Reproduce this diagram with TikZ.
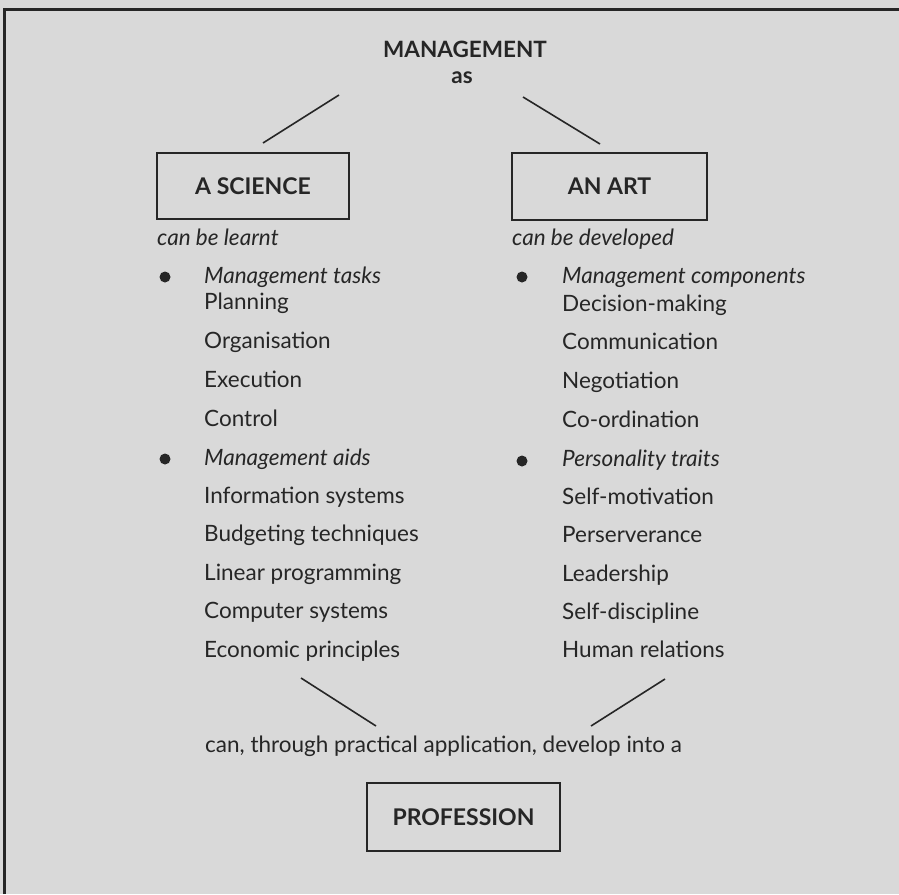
\documentclass[tikz,border=0pt]{standalone}
\usepackage{fontspec}
\setmainfont{Lato}
\definecolor{paper}{RGB}{217,217,217}
\definecolor{ink}{RGB}{38,38,38}
\begin{document}
\begin{tikzpicture}[x=1pt,y=-1pt,
  txt/.style={anchor=base west, inner sep=0pt, text=ink, font=\fontsize{22.5}{26}\selectfont},
  itxt/.style={txt, font=\fontsize{22.5}{26}\selectfont\itshape},
  ttl/.style={anchor=base, inner sep=0pt, text=ink, font=\fontsize{22.5}{26}\selectfont\bfseries},
  box/.style={draw=ink, line width=1.5pt, inner sep=0pt, text=ink,
    font=\fontsize{23}{26}\selectfont\bfseries},
  link/.style={draw=ink, line width=1.6pt},
  dot/.style={fill=ink, draw=none}]
% paper and outer frame
\fill[paper] (0,0) rectangle (899,894);
\useasboundingbox (0,0) rectangle (899,894);
\draw[ink, line width=2.4pt] (4.5,894) -- (4.5,9.5) -- (899,9.5);

% top heading
\node[ttl] (mgmt) at (465,57) {MANAGEMENT};
\node[ttl] (as) at (462,83) {as};

% the two views
\node[box, minimum width=192pt, minimum height=66pt] (sci) at (253,186) {A SCIENCE};
\node[box, minimum width=195pt, minimum height=67pt] (art) at (609.5,186.5) {AN ART};

\coordinate (asL) at (339,95);
\coordinate (sciT) at (263,143);
\coordinate (asR) at (523,97);
\coordinate (artT) at (600,144);
\draw[link] (asL) -- (sciT);
\draw[link] (asR) -- (artT);

\node[itxt] (learnt) at (157,245) {can be learnt};
\node[itxt] (devel) at (512,245) {can be developed};

% left column: science
\fill[dot] (165,277) circle (5.5);
\node[itxt] (tasks) at (204,283) {Management tasks};
\node[txt] (l1) at (204,309) {Planning};
\node[txt] (l2) at (204,348) {Organisation};
\node[txt] (l3) at (204,387) {Execution};
\node[txt] (l4) at (204,426) {Control};
\fill[dot] (165,459) circle (5.5);
\node[itxt] (aids) at (204,465) {Management aids};
\node[txt] (l5) at (204,503) {Information systems};
\node[txt] (l6) at (204,541) {Budgeting techniques};
\node[txt] (l7) at (204,580) {Linear programming};
\node[txt] (l8) at (204,618) {Computer systems};
\node[txt] (l9) at (204,657) {Economic principles};

% right column: art
\fill[dot] (522,277) circle (5.5);
\node[itxt] (comp) at (562,283) {Management components};
\node[txt] (r1) at (562,311) {Decision-making};
\node[txt] (r2) at (562,349) {Communication};
\node[txt] (r3) at (562,388) {Negotiation};
\node[txt] (r4) at (562,427) {Co-ordination};
\fill[dot] (522,461) circle (5.5);
\node[itxt] (pers) at (562,466) {Personality traits};
\node[txt] (r5) at (562,504) {Self-motivation};
\node[txt] (r6) at (562,542) {Perserverance};
\node[txt] (r7) at (562,581) {Leadership};
\node[txt] (r8) at (562,619) {Self-discipline};
\node[txt] (r9) at (562,657) {Human relations};

% convergence into a profession
\coordinate (lb1) at (301,678);
\coordinate (lb2) at (376,726);
\coordinate (rb1) at (665,679);
\coordinate (rb2) at (591,726);
\draw[link] (lb1) -- (lb2);
\draw[link] (rb1) -- (rb2);

\node[txt] (via) at (205,752) {can, through practical application, develop into a};
\node[box, minimum width=193pt, minimum height=68pt] (prof) at (463.5,817) {PROFESSION};
\end{tikzpicture}
\end{document}
